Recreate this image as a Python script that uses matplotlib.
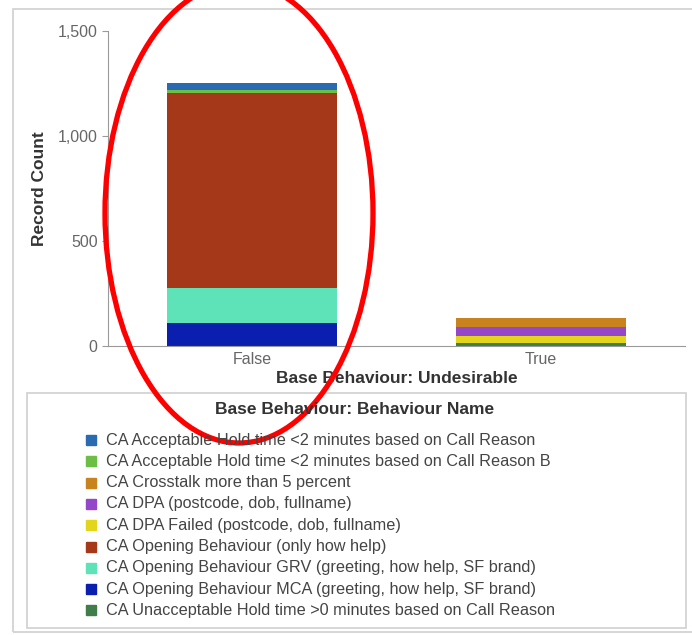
import matplotlib

matplotlib.use("Agg")
import matplotlib.pyplot as plt
from matplotlib.patches import Ellipse, Rectangle

plt.rcParams["font.family"] = ["Liberation Sans", "DejaVu Sans"]

categories = ["False", "True"]
behaviours = [
    "CA Acceptable Hold time <2 minutes based on Call Reason",
    "CA Acceptable Hold time <2 minutes based on Call Reason B",
    "CA Crosstalk more than 5 percent",
    "CA DPA (postcode, dob, fullname)",
    "CA DPA Failed (postcode, dob, fullname)",
    "CA Opening Behaviour (only how help)",
    "CA Opening Behaviour GRV (greeting, how help, SF brand)",
    "CA Opening Behaviour MCA (greeting, how help, SF brand)",
    "CA Unacceptable Hold time >0 minutes based on Call Reason",
]
colors = [
    "#2a6ab0", "#6dbe45", "#c8821e", "#9447c8", "#e3d51c",
    "#a6381a", "#5ee3b8", "#0b1fae", "#3f7d4a",
]
# counts per behaviour: [False, True]
counts = [
    [32, 0],
    [14, 0],
    [0, 42],
    [0, 44],
    [0, 33],
    [928, 0],
    [170, 0],
    [108, 0],
    [0, 15],
]

fig = plt.figure(figsize=(6.92, 6.35), dpi=100)
W, H = 692, 635

# outer frame
fig.patches.append(Rectangle((13 / W, 1 - 632 / H), (W + 5 - 13) / W, (632 - 9) / H,
                             transform=fig.transFigure, fill=False,
                             edgecolor="#d0d0d0", linewidth=1.2))

ax = fig.add_axes([108 / W, 1 - 346 / H, (685 - 108) / W, (346 - 31) / H])
x = range(len(categories))
bottoms = [0] * len(categories)
# stack from the last behaviour up to the first
for name, color, vals in reversed(list(zip(behaviours, colors, counts))):
    ax.bar(x, vals, width=0.59, bottom=bottoms, color=color, label=name)
    bottoms = [b + v for b, v in zip(bottoms, vals)]

ax.set_xlim(-0.5, 1.5)
ax.set_ylim(0, 1500)
ax.set_yticks([0, 500, 1000, 1500])
ax.set_yticklabels(["0", "500", "1,000", "1,500"])
ax.set_xticks(list(x))
ax.set_xticklabels(categories)
for side in ["top", "right"]:
    ax.spines[side].set_visible(False)
for side in ["left", "bottom"]:
    ax.spines[side].set_color("#9a9a9a")
ax.tick_params(axis="y", colors="#9a9a9a", labelcolor="#666666", labelsize=11.5, length=4)
ax.tick_params(axis="x", length=0, labelcolor="#666666", labelsize=11.5, pad=4)
ax.set_ylabel("Record Count", fontsize=12.5, fontweight="bold", color="#333333", labelpad=8)
ax.set_xlabel("Base Behaviour: Undesirable", fontsize=12.5, fontweight="bold",
              color="#333333", labelpad=3)

# legend box
fig.patches.append(Rectangle((27 / W, 1 - 628 / H), (686 - 27) / W, (628 - 393) / H,
                             transform=fig.transFigure, fill=False,
                             edgecolor="#d0d0d0", linewidth=1.2))
fig.text(355 / W, 1 - 410 / H, "Base Behaviour: Behaviour Name", ha="center", va="center",
         fontsize=12.5, fontweight="bold", color="#333333")
for i, (name, color) in enumerate(zip(behaviours, colors)):
    yc = 1 - (440 + i * 21.3) / H
    fig.patches.append(Rectangle((86 / W, yc - 5 / H), 10 / W, 10 / H,
                                 transform=fig.transFigure, color=color))
    fig.text(106 / W, yc, name, ha="left", va="center", fontsize=11.7, color="#444444")

# red annotation ellipse
fig.patches.append(Ellipse((239 / W, 1 - 213 / H), 268 / W, 460 / H,
                           transform=fig.transFigure, fill=False,
                           edgecolor="#ff0000", linewidth=3.8))

fig.savefig("out.png", dpi=100)
